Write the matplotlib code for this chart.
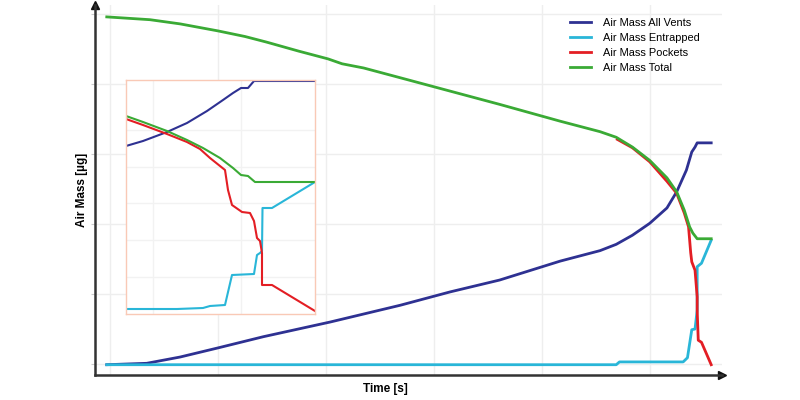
import numpy as np
import matplotlib.pyplot as plt

plt.rcParams['font.family'] = ['Liberation Sans', 'DejaVu Sans']

# Main chart data (time in grid units, air mass in grid units)
vents_t = [-0.03, 0.34, 0.65, 1.0, 1.42, 2.04, 2.69, 3.15, 3.61, 4.17, 4.54, 4.69, 4.84, 5.00, 5.16, 5.25, 5.34, 5.39, 5.42, 5.44, 5.57]
vents_m = [-0.01, 0.01, 0.10, 0.23, 0.39, 0.60, 0.84, 1.03, 1.20, 1.47, 1.62, 1.71, 1.84, 2.01, 2.23, 2.46, 2.77, 3.03, 3.10, 3.16, 3.16]

entr_t = [-0.03, 4.69, 4.72, 5.31, 5.35, 5.39, 5.42, 5.44, 5.44, 5.48, 5.57]
entr_m = [-0.01, -0.01, 0.03, 0.03, 0.09, 0.49, 0.50, 0.77, 1.39, 1.44, 1.77]

pock_t = [4.70, 4.84, 5.00, 5.16, 5.25, 5.32, 5.36, 5.38, 5.39, 5.42, 5.44, 5.44, 5.45, 5.48, 5.57]
pock_m = [3.21, 3.09, 2.89, 2.61, 2.44, 2.16, 1.96, 1.59, 1.46, 1.34, 0.96, 0.77, 0.34, 0.31, -0.01]

total_t = [-0.03, 0.37, 0.65, 1.0, 1.25, 1.45, 1.75, 2.02, 2.15, 2.35, 2.69, 3.15, 3.61, 4.17, 4.54, 4.69, 4.84, 5.00, 5.16, 5.25, 5.32, 5.37, 5.40, 5.44, 5.57]
total_m = [4.96, 4.92, 4.86, 4.76, 4.68, 4.60, 4.47, 4.36, 4.29, 4.23, 4.09, 3.90, 3.71, 3.47, 3.32, 3.24, 3.10, 2.91, 2.66, 2.46, 2.20, 1.96, 1.87, 1.79, 1.79]

# Inset (zoom on the last part of the run)
in_vents_t = [0, 17, 41, 61, 81, 97, 107, 115, 122, 128, 189]
in_vents_m = [168, 173, 182, 191, 203, 214, 221, 226, 226, 233, 233]
in_entr_t = [0, 51, 77, 84, 99, 106, 128, 131, 134, 136, 136.5, 146, 189]
in_entr_m = [5, 5, 6, 8, 9, 39, 40, 59, 61, 63, 106, 106, 132]
in_pock_t = [0, 17, 41, 61, 74, 84, 99, 102, 106, 116, 124, 128, 131, 134, 136, 136, 146, 189]
in_pock_m = [195, 189, 180, 172, 165, 156, 144, 124, 109, 102, 101, 93, 76, 73, 61, 29, 29, 3]
in_total_t = [0, 17, 41, 61, 77, 94, 107, 115, 122, 129, 189]
in_total_m = [198, 192, 183, 174, 166, 156, 146, 139, 138, 132, 132]

c_vents = '#2e3192'
c_entr = '#29b6d8'
c_pock = '#e31e24'
c_total = '#3aaa35'

fig = plt.figure(figsize=(8, 4), dpi=100)
ax = fig.add_axes([95 / 800, 25 / 400, 627 / 800, 370 / 400])

ax.plot(vents_t, vents_m, color=c_vents, lw=2, label='Air Mass All Vents')
ax.plot(entr_t, entr_m, color=c_entr, lw=2, label='Air Mass Entrapped')
ax.plot(pock_t, pock_m, color=c_pock, lw=2, label='Air Mass Pockets')
ax.plot(total_t, total_m, color=c_total, lw=2, label='Air Mass Total')

ax.set_xlim(-0.139, 5.67)
ax.set_ylim(-0.157, 5.13)
ax.set_xticks(range(6))
ax.set_yticks(range(6))
ax.set_xticklabels([])
ax.set_yticklabels([])
ax.tick_params(axis='x', length=0)
ax.tick_params(axis='y', length=3, color='#cccccc')
ax.grid(True, color='#eeeeee', lw=1)
ax.set_axisbelow(True)
for s in ['top', 'right']:
    ax.spines[s].set_visible(False)
for s in ['left', 'bottom']:
    ax.spines[s].set_color('#333333')
    ax.spines[s].set_linewidth(1.8)
ax.plot(1, 0, '>', color='#111111', ms=6, transform=ax.transAxes, clip_on=False)
ax.plot(0, 1, '^', color='#111111', ms=6, transform=ax.transAxes, clip_on=False)

ax.set_xlabel('Time [s]', fontsize=8.5, fontweight='bold', va='center')
ax.xaxis.set_label_coords(0.4625, -0.038)
ax.set_ylabel('Air Mass [µg]', fontsize=8.5, fontweight='bold', va='center')
ax.yaxis.set_label_coords(-0.021, 0.5)

fig.legend(loc='upper left', bbox_to_anchor=(570 / 800, 1 - 18 / 400), frameon=False,
           fontsize=7.9, handlelength=1.9, labelspacing=0.46, handletextpad=1.1,
           borderpad=0, borderaxespad=0)

# Inset
axi = fig.add_axes([126 / 800, 86 / 400, 189 / 800, 234 / 400])
axi.plot(in_vents_t, in_vents_m, color=c_vents, lw=1.5)
axi.plot(in_entr_t, in_entr_m, color=c_entr, lw=1.5)
axi.plot(in_pock_t, in_pock_m, color=c_pock, lw=1.5)
axi.plot(in_total_t, in_total_m, color=c_total, lw=1.5)
axi.set_xlim(0, 189)
axi.set_ylim(0, 234)
axi.set_xticks([27, 115])
axi.set_yticks([37, 74, 111, 147, 184])
axi.set_xticklabels([])
axi.set_yticklabels([])
axi.tick_params(length=0)
axi.grid(True, color='#f2f2f2', lw=1)
axi.set_axisbelow(True)
for s in axi.spines.values():
    s.set_color('#f9c9b6')
    s.set_linewidth(1)

plt.savefig('out.png', dpi=100)
